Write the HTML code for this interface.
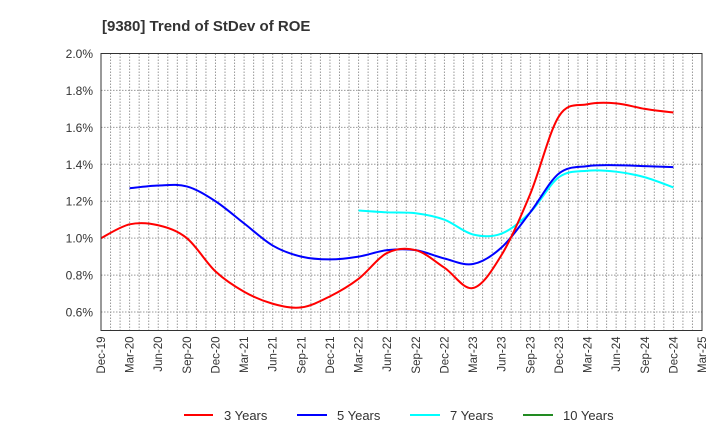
<!DOCTYPE html>
<html><head><meta charset="utf-8"><style>
body{margin:0;background:#fff}
svg text{font-family:"Liberation Sans",Arial,sans-serif}
</style></head><body>
<svg id="c" width="720" height="440" xmlns="http://www.w3.org/2000/svg">
<text x="102" y="31" font-size="15" font-weight="bold" fill="#333">[9380]  Trend of StDev of ROE</text>
<g id="grid"></g><g id="series"></g><g id="axes"></g>
<g>
<g><line x1="184" y1="415" x2="213" y2="415" stroke="#f00" stroke-width="2"/><text x="224" y="420" font-size="13" fill="#333">3 Years</text></g>
<g><line x1="297" y1="415" x2="327" y2="415" stroke="#00f" stroke-width="2"/><text x="337" y="420" font-size="13" fill="#333">5 Years</text></g>
<g><line x1="410" y1="415" x2="440" y2="415" stroke="#0ff" stroke-width="2"/><text x="450" y="420" font-size="13" fill="#333">7 Years</text></g>
<g><line x1="523" y1="415" x2="553" y2="415" stroke="#228b22" stroke-width="2"/><text x="563" y="420" font-size="13" fill="#333">10 Years</text></g>
</g>
</svg>
<script>
const xLabels=["Dec-19","Mar-20","Jun-20","Sep-20","Dec-20","Mar-21","Jun-21","Sep-21","Dec-21","Mar-22","Jun-22","Sep-22","Dec-22","Mar-23","Jun-23","Sep-23","Dec-23","Mar-24","Jun-24","Sep-24","Dec-24","Mar-25"];
const yTicks=[0.6,0.8,1.0,1.2,1.4,1.6,1.8,2.0];
const s3=[1.00,1.075,1.07,1.00,0.82,0.71,0.645,0.625,0.685,0.78,0.92,0.935,0.84,0.73,0.91,1.24,1.66,1.725,1.73,1.70,1.68];
const s5=[null,1.27,1.285,1.28,1.20,1.08,0.96,0.90,0.885,0.90,0.935,0.935,0.89,0.86,0.95,1.14,1.35,1.39,1.395,1.39,1.385];
const s7=[null,null,null,null,null,null,null,null,null,1.15,1.14,1.135,1.10,1.02,1.025,1.14,1.33,1.365,1.36,1.33,1.275];
const L=101,R=702,T=53.5,B=330.5,yMin=0.5,yMax=2.0;
const X=i=>L+i*(R-L)/21, Y=v=>B-(v-yMin)/(yMax-yMin)*(B-T);
const NS="http://www.w3.org/2000/svg";
function el(t,a,p){const e=document.createElementNS(NS,t);for(const k in a)e.setAttribute(k,a[k]);p.appendChild(e);return e;}
const g=document.getElementById('grid'),ax=document.getElementById('axes'),sg=document.getElementById('series');
for(let m=1;m<63;m++){const x=L+m*(R-L)/63;const ln=el('line',{x1:x,y1:T,x2:x,y2:B,stroke:'#999','stroke-dasharray':'1.5,1.5','stroke-width':1},g);}
yTicks.forEach(v=>{const ln=el('line',{x1:L,y1:Y(v),x2:R,y2:Y(v),stroke:'#999','stroke-dasharray':'1.5,1.5'},g);
const t=el('text',{x:93,y:Y(v)+4.5,'text-anchor':'end','font-size':12,fill:'#333'},ax);t.textContent=v.toFixed(1)+'%';});
const fr=el('rect',{x:L,y:T,width:R-L,height:B-T,fill:'none',stroke:'#333','stroke-width':1},ax);

xLabels.forEach((s,i)=>{const x=X(i);const t=el('text',{x:0,y:0,transform:`translate(${x+4},${B+6}) rotate(-90)`,'text-anchor':'end','font-size':11.5,fill:'#333'},ax);t.textContent=s;});
function path(arr){const p=[];arr.forEach((v,i)=>{if(v!=null)p.push([X(i),Y(v)]);});
let d=`M${p[0][0]},${p[0][1]}`;for(let i=0;i<p.length-1;i++){const p0=p[i-1]||p[i],p1=p[i],p2=p[i+1],p3=p[i+2]||p2;
d+=` C${p1[0]+(p2[0]-p0[0])/6},${p1[1]+(p2[1]-p0[1])/6} ${p2[0]-(p3[0]-p1[0])/6},${p2[1]-(p3[1]-p1[1])/6} ${p2[0]},${p2[1]}`;}return d;}
[[s7,'#0ff','series-7-years'],[s5,'#00f','series-5-years'],[s3,'#f00','series-3-years']].forEach(([a,c,n])=>{const e=el('path',{d:path(a),fill:'none',stroke:c,'stroke-width':2},sg);});
</script>
</body></html>
